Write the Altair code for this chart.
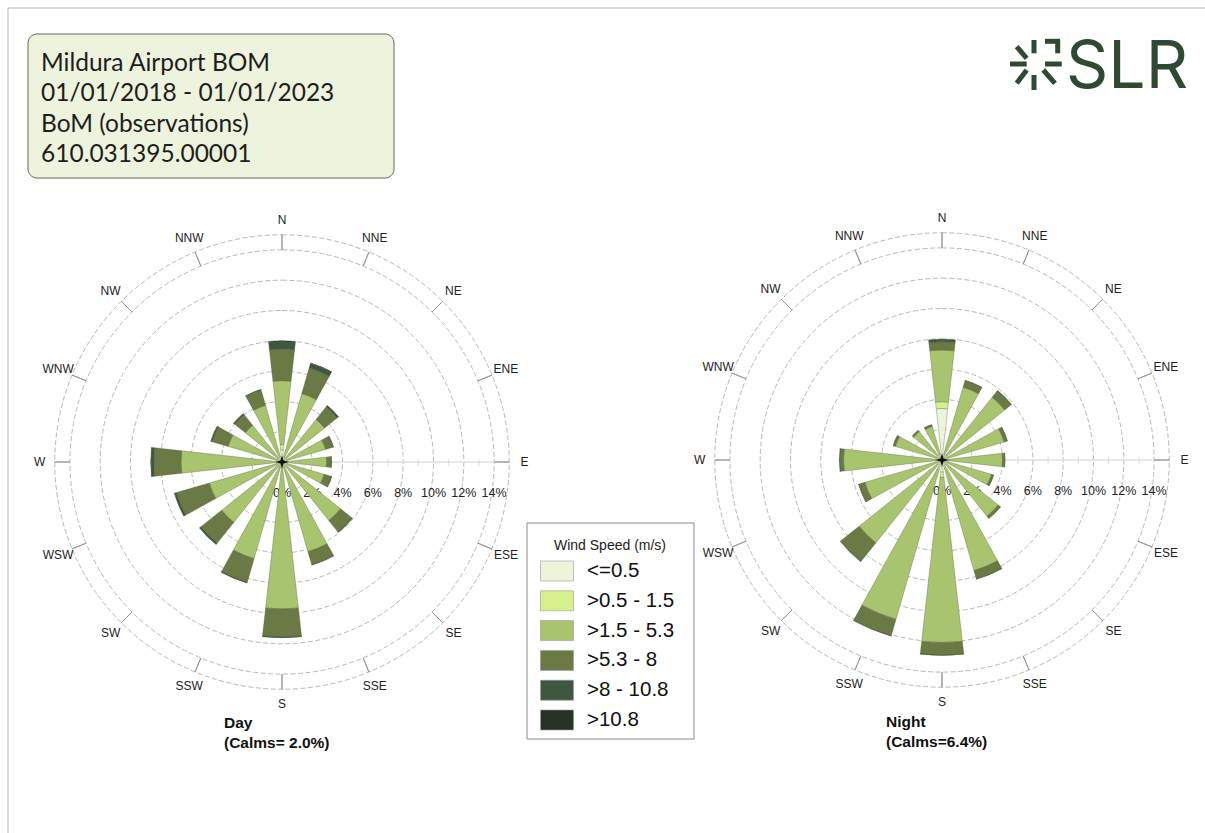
import altair as alt
import pandas as pd

# ---------------- data ----------------
directions = ["N", "NNE", "NE", "ENE", "E", "ESE", "SE", "SSE",
              "S", "SSW", "SW", "WSW", "W", "WNW", "NW", "NNW"]
classes = ["<=0.5", ">0.5 - 1.5", ">1.5 - 5.3", ">5.3 - 8", ">8 - 10.8", ">10.8"]
class_colors = ["#eef3dc", "#d6f08e", "#a9c46e", "#6b7a45", "#3e5840", "#263224"]

# Day: frequency (%) per direction for each speed class
day_c0 = [0.80, 0.15, 0.15, 0.15, 0.15, 0.15, 0.15, 0.15, 0.15, 0.15, 0.15, 0.15, 0.15, 0.15, 0.15, 0.15]
day_c1 = [0.35, 0.20, 0.20, 0.20, 0.20, 0.20, 0.20, 0.20, 0.20, 0.20, 0.20, 0.20, 0.20, 0.20, 0.20, 0.20]
day_c2 = [4.22, 4.35, 3.25, 2.65, 2.60, 2.55, 4.60, 5.81, 9.35, 6.29, 4.75, 4.65, 6.32, 3.35, 2.75, 3.55]
day_c3 = [2.07, 1.75, 1.05, 0.50, 0.30, 0.50, 0.95, 0.89, 1.85, 1.61, 1.75, 2.25, 1.78, 1.10, 0.90, 1.05]
day_c4 = [0.50, 0.33, 0.12, 0.05, 0.03, 0.03, 0.06, 0.04, 0.04, 0.05, 0.10, 0.13, 0.18, 0.08, 0.08, 0.04]
day_c5 = [0.06, 0.02, 0.01, 0.00, 0.00, 0.00, 0.00, 0.00, 0.01, 0.01, 0.02, 0.02, 0.04, 0.01, 0.01, 0.00]

# Night
night_c0 = [3.40, 0.25, 0.25, 0.25, 0.25, 0.25, 0.25, 0.40, 0.80, 0.50, 0.25, 0.25, 0.25, 0.25, 0.25, 0.25]
night_c1 = [0.45, 0.15, 0.15, 0.15, 0.15, 0.15, 0.15, 0.15, 0.35, 0.15, 0.15, 0.15, 0.15, 0.15, 0.15, 0.15]
night_c2 = [3.41, 4.60, 4.90, 3.87, 3.60, 3.00, 4.35, 7.05, 10.90, 10.30, 6.60, 4.90, 6.10, 2.80, 2.00, 1.90]
night_c3 = [0.54, 0.45, 0.55, 0.21, 0.15, 0.13, 0.18, 0.57, 0.83, 1.13, 1.57, 0.42, 0.22, 0.15, 0.10, 0.12]
night_c4 = [0.15, 0.03, 0.03, 0.02, 0.01, 0.02, 0.02, 0.03, 0.02, 0.02, 0.03, 0.02, 0.06, 0.01, 0.02, 0.01]
night_c5 = [0.02, 0.00, 0.00, 0.00, 0.00, 0.00, 0.00, 0.00, 0.00, 0.00, 0.00, 0.00, 0.00, 0.00, 0.00, 0.00]

ring_pcts = [2, 4, 6, 8, 10, 12, 14]
tick_pcts = [0, 2, 4, 6, 8, 10, 12, 14]
minor_pcts = [5, 7, 9, 11, 13]
title_lines = ["Mildura Airport BOM", "01/01/2018 - 01/01/2023",
               "BoM (observations)", "610.031395.00001"]

# ---------------- layout ----------------
W, H = 1205, 833
DAY_C = (282, 462)
NIGHT_C = (942, 460)
HALF_W = 6.4          # half angular width of a sector, degrees
R_MAX_PCT = 15        # outer circle
R_MAX_PX = 227.25
FONT = "Liberation Sans"
GREEN_DARK = "#2f4a33"

rscale = alt.Scale(type="linear", domain=[0, R_MAX_PCT], range=[0, R_MAX_PX])
tscale = alt.Scale(domain=[0, 360], range=[0, 6.283185307])
cscale = alt.Scale(domain=classes, range=class_colors)


def rad(field):
    return alt.Radius(field, scale=rscale, stack=False)


def th(field):
    return alt.Theta(field, scale=tscale, stack=False)


def rose_frame(series):
    rows = []
    for i, d in enumerate(directions):
        deg = i * 22.5
        cum = 0.0
        for k, cls in enumerate(classes):
            v = series[k][i]
            if v > 0:
                rows.append(dict(dir=d, cls=cls, t1=deg - HALF_W, t2=deg + HALF_W,
                                 r_in=cum, r_out=cum + v))
            cum += v
    return pd.DataFrame(rows)


dir_df = pd.DataFrame({"dir": directions,
                       "deg": [i * 22.5 for i in range(16)]})
dir_df["r_lab"] = 16.0
dir_df["r_a"] = 14.0
dir_df["r_b"] = float(R_MAX_PCT)
ring_df = pd.DataFrame({"r": ring_pcts + [R_MAX_PCT]})
tick_df = pd.DataFrame({"pct": tick_pcts,
                        "lab": [f"{p}%" for p in tick_pcts],
                        "deg": [90.0] * len(tick_pcts)})
minor_df = pd.DataFrame({"pct": minor_pcts, "deg": [90.0] * len(minor_pcts)})
axis_df = pd.DataFrame({"deg": [90.0], "r0": [0.0], "r1": [14.0]})
center_df = pd.DataFrame({"k": [0]})


def rose_layers(series, center):
    cx, cy = center
    X, Y = alt.value(cx), alt.value(cy)
    rings = alt.Chart(ring_df).mark_arc(
        filled=False, stroke="#9a9a9a", strokeWidth=0.7, strokeDash=[5, 2.5]
    ).encode(x=X, y=Y, theta=alt.value(0), theta2=alt.value(6.2832), radius=rad("r:Q"))
    band_ticks = alt.Chart(dir_df).mark_arc(
        filled=False, stroke="#8c8c8c", strokeWidth=0.8
    ).encode(x=X, y=Y, theta=th("deg:Q"), theta2="deg:Q",
             radius=rad("r_b:Q"), radius2="r_a:Q")
    axis_line = alt.Chart(axis_df).mark_arc(
        filled=False, stroke="#e0e0e0", strokeWidth=1
    ).encode(x=X, y=Y, theta=th("deg:Q"), theta2="deg:Q",
             radius=rad("r1:Q"), radius2="r0:Q")
    minor_ticks = alt.Chart(minor_df).mark_text(
        font=FONT, fontSize=8, color="#d0d0d0", align="center", baseline="middle"
    ).encode(x=X, y=Y, theta=th("deg:Q"), radius=rad("pct:Q"), text=alt.value("|"))
    tick_labels = alt.Chart(tick_df).mark_text(
        font=FONT, fontSize=12.5, color="#222", dy=31, align="center", baseline="middle"
    ).encode(x=X, y=Y, theta=th("deg:Q"), radius=rad("pct:Q"), text="lab:N")
    dir_labels = alt.Chart(dir_df).mark_text(
        font=FONT, fontSize=12, color="#222", align="center", baseline="middle"
    ).encode(x=X, y=Y, theta=th("deg:Q"), radius=rad("r_lab:Q"), text="dir:N")
    bars = alt.Chart(rose_frame(series)).mark_arc(
        stroke="#4a552f", strokeWidth=0.4, strokeOpacity=0.8
    ).encode(x=X, y=Y, theta=th("t1:Q"), theta2="t2:Q",
             radius=rad("r_out:Q"), radius2="r_in:Q",
             color=alt.Color("cls:N", scale=cscale, legend=None))
    star = alt.Chart(center_df).mark_point(
        shape="M0,-1L0.22,-0.22L1,0L0.22,0.22L0,1L-0.22,0.22L-1,0L-0.22,-0.22Z",
        filled=True, color="#111", size=170, opacity=1
    ).encode(x=X, y=Y)
    return [rings, band_ticks, axis_line, minor_ticks, tick_labels, dir_labels, bars, star]


day_layers = rose_layers([day_c0, day_c1, day_c2, day_c3, day_c4, day_c5], DAY_C)
night_layers = rose_layers([night_c0, night_c1, night_c2, night_c3, night_c4, night_c5], NIGHT_C)

one = pd.DataFrame({"k": [0]})

page_border = alt.Chart(one).mark_rect(filled=False, stroke="#b5b5b5", strokeWidth=1).encode(
    x=alt.value(8), x2=alt.value(W + 20), y=alt.value(8), y2=alt.value(H + 20))

title_box = alt.Chart(one).mark_rect(
    cornerRadius=9, fill="#edf3dc", stroke="#5f6b55", strokeWidth=1
).encode(x=alt.value(28), x2=alt.value(394), y=alt.value(34), y2=alt.value(178))

title_text = alt.Chart(one).mark_text(
    font="Lato", fontSize=24.5, color="#1e1e1e", align="left", baseline="alphabetic",
    lineHeight=30.3
).encode(x=alt.value(41), y=alt.value(71), text=alt.value(title_lines))

logo_text = alt.Chart(one).mark_text(
    font="Inter", fontSize=66, color=GREEN_DARK, align="left", baseline="alphabetic"
).encode(x=alt.value(1066), y=alt.value(88), text=alt.value("SLR"))

logo_segments = pd.DataFrame({
    "x1": [1016.7, 1034.0, 1045.0, 1057.7, 1010.0, 1045.0, 1016.7, 1034.0, 1043.3],
    "y1": [46.7, 40.0, 41.3, 40.0, 64.0, 64.0, 83.3, 75.0, 70.0],
    "x2": [1026.7, 1034.0, 1060.0, 1057.7, 1026.7, 1061.7, 1026.7, 1034.0, 1055.0],
    "y2": [58.3, 53.3, 41.3, 53.3, 64.0, 64.0, 70.0, 90.0, 83.3],
})
logo_burst = alt.Chart(logo_segments).mark_rule(
    color=GREEN_DARK, strokeWidth=5, strokeCap="butt"
).encode(x=alt.X("x1:Q", scale=None, axis=None), y=alt.Y("y1:Q", scale=None, axis=None),
         x2="x2:Q", y2="y2:Q")

# legend
leg_df = pd.DataFrame({"cls": classes})
leg_y = alt.Y("cls:N", scale=alt.Scale(type="point", domain=classes, range=[571, 720], padding=0),
              axis=None)
leg_box = alt.Chart(one).mark_rect(fill="white", stroke="#8a8a8a", strokeWidth=1).encode(
    x=alt.value(527), x2=alt.value(694), y=alt.value(523), y2=alt.value(739))
leg_title = alt.Chart(one).mark_text(
    font=FONT, fontSize=14, color="#222", align="center", baseline="middle"
).encode(x=alt.value(610), y=alt.value(546), text=alt.value("Wind Speed (m/s)"))
leg_sw = alt.Chart(leg_df).mark_point(
    shape="M-1.65,-1H1.65V1H-1.65Z", filled=True, size=400, opacity=1,
    stroke="#9a9a9a", strokeWidth=0.6
).encode(x=alt.value(557), y=leg_y, color=alt.Color("cls:N", scale=cscale, legend=None))
leg_lab = alt.Chart(leg_df).mark_text(
    font=FONT, fontSize=20.5, color="#111", align="left", baseline="middle"
).encode(x=alt.value(587), y=leg_y, text="cls:N")

captions = []
for (txt1, txt2, x0, y0) in [("Day", "(Calms= 2.0%)", 224, 723),
                             ("Night", "(Calms=6.4%)", 886, 722)]:
    captions.append(alt.Chart(one).mark_text(
        font=FONT, fontSize=15.5, fontWeight="bold", color="#111", align="left",
        baseline="middle", lineHeight=19.5
    ).encode(x=alt.value(x0), y=alt.value(y0), text=alt.value([txt1, txt2])))

chart = alt.layer(
    page_border, title_box, title_text, logo_text, logo_burst,
    *day_layers, *night_layers,
    *captions, leg_box, leg_title, leg_sw, leg_lab,
).properties(
    width=W, height=H, padding=0,
    autosize=alt.AutoSizeParams(type="none"),
    background="white",
).configure_view(stroke=None)

chart.save("out.html", embed_options={"renderer": "svg", "actions": False})
